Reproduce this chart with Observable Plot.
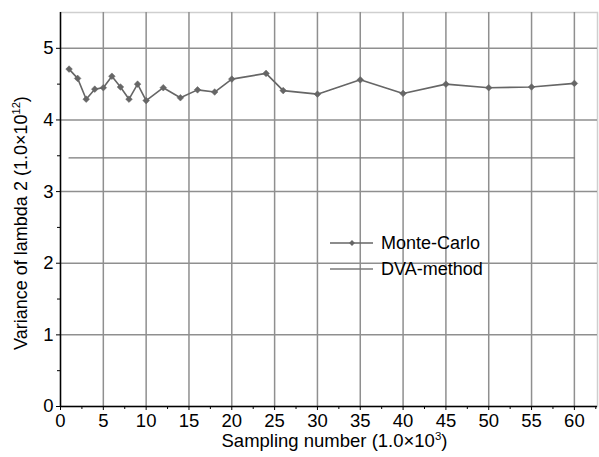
<!DOCTYPE html>
<html>
<head>
<meta charset="utf-8">
<script src="https://cdn.jsdelivr.net/npm/d3@7"></script>
<script src="https://cdn.jsdelivr.net/npm/@observablehq/plot@0.6"></script>
<style>
  html, body { margin: 0; padding: 0; background: #fff; }
  #chart { width: 599px; height: 457px; }
</style>
</head>
<body>
<div id="chart"></div>
<script>
// Sampling number (×10^3)
const samplingX = [1, 2, 3, 4, 5, 6, 7, 8, 9, 10, 12, 14, 16, 18, 20, 24, 26, 30, 35, 40, 45, 50, 55, 60];
// Monte-Carlo variance (×10^12)
const monteCarlo = [4.71, 4.58, 4.29, 4.43, 4.45, 4.61, 4.46, 4.29, 4.50, 4.27, 4.45, 4.31, 4.42, 4.39, 4.57, 4.65, 4.41, 4.36, 4.56, 4.37, 4.50, 4.45, 4.46, 4.51];
// DVA-method variance (×10^12)
const dvaValue = 3.47;
const dvaX = [1, 60];

const xTicks = [0, 5, 10, 15, 20, 25, 30, 35, 40, 45, 50, 55, 60];
const xMinor = [2.5, 7.5, 12.5, 17.5, 22.5, 27.5, 32.5, 37.5, 42.5, 47.5, 52.5, 57.5, 62.5];
const yTicks = [0, 1, 2, 3, 4, 5];
const yMinor = [0.5, 1.5, 2.5, 3.5, 4.5];
const seriesNames = ["Monte-Carlo", "DVA-method"];
const xLabelParts = ["Sampling number (1.0×10", "3", ")"];
const yLabelParts = ["Variance of lambda 2 (1.0×10", "12", ")"];

const mcData = samplingX.map((x, i) => ({x, y: monteCarlo[i]}));
const dvaData = dvaX.map(x => ({x, y: dvaValue}));

const lineColor = "#666666";
const gridColor = "#8f8f8f";
const fontFam = "'Liberation Sans', Arial, sans-serif";

const plot = Plot.plot({
  width: 599,
  height: 457,
  marginLeft: 60,
  marginRight: 2,
  marginTop: 12,
  marginBottom: 51,
  style: {fontFamily: fontFam, fontSize: "16px", color: "#000", background: "#fff"},
  x: {domain: [0, 62.7]},
  y: {domain: [0, 5.5]},
  marks: [
    Plot.frame({stroke: "#cfcfcf", strokeWidth: 1.5}),
    Plot.gridX(xTicks.filter(d => d > 0), {stroke: gridColor, strokeOpacity: 1, strokeWidth: 1.5}),
    Plot.gridY(yTicks.filter(d => d > 0), {stroke: gridColor, strokeOpacity: 1, strokeWidth: 1.5}),
    Plot.axisX(xTicks, {tickSize: 4, tickPadding: 3, fontSize: 18.5, label: null, stroke: "#000", tickFormat: d3.format("d")}),
    Plot.axisX(xMinor, {tickSize: 3, tickFormat: () => "", label: null, stroke: "#000"}),
    Plot.axisY(yTicks, {tickSize: 4, tickPadding: 3, fontSize: 18.5, label: null, stroke: "#000", tickFormat: d3.format("d")}),
    Plot.axisY(yMinor, {tickSize: 3, tickFormat: () => "", label: null, stroke: "#000"}),
    Plot.ruleX([0], {stroke: "#000", strokeWidth: 1.5}),
    Plot.ruleY([0], {stroke: "#000", strokeWidth: 1.5}),
    Plot.line(dvaData, {x: "x", y: "y", stroke: "#7a7a7a", strokeWidth: 1.3}),
    Plot.line(mcData, {x: "x", y: "y", stroke: lineColor, strokeWidth: 1.6}),
    Plot.dot(mcData, {x: "x", y: "y", symbol: "diamond2", r: 3, fill: lineColor, stroke: lineColor, strokeWidth: 0.5})
  ]
});

document.getElementById("chart").appendChild(plot);

const svg = d3.select(plot);
const xs = plot.scale("x"), ys = plot.scale("y");

function labelWithSup(sel, parts, size) {
  sel.append("tspan").text(parts[0]);
  sel.append("tspan").attr("font-size", size * 0.62).attr("dy", -size * 0.38).text(parts[1]);
  sel.append("tspan").attr("dy", size * 0.38).text(parts[2]);
}

// axis titles
const xt = svg.append("text")
  .attr("x", (xs.apply(0) + xs.apply(62.7)) / 2 + 6)
  .attr("y", 447)
  .attr("text-anchor", "middle")
  .attr("font-family", fontFam)
  .attr("font-size", 18.5)
  .attr("fill", "#000");
labelWithSup(xt, xLabelParts, 18.5);

const yt = svg.append("text")
  .attr("transform", `translate(27,${(ys.apply(0) + ys.apply(5.5)) / 2 + 14}) rotate(-90)`)
  .attr("text-anchor", "middle")
  .attr("font-family", fontFam)
  .attr("font-size", 18)
  .attr("fill", "#000");
labelWithSup(yt, yLabelParts, 18);

// legend
const lg = svg.append("g").attr("transform", "translate(330,243)");
seriesNames.forEach((name, i) => {
  const g = lg.append("g").attr("transform", `translate(0,${i * 26})`);
  g.append("line").attr("x1", 0).attr("x2", 43).attr("y1", 0).attr("y2", 0)
    .attr("stroke", i === 0 ? lineColor : "#7a7a7a").attr("stroke-width", i === 0 ? 1.6 : 1.3);
  if (i === 0) {
    g.append("path").attr("d", d3.symbol(d3.symbolDiamond2, 22)()).attr("transform", "translate(22,0)")
      .attr("fill", lineColor);
  }
  g.append("text").attr("x", 51).attr("y", 0).attr("dy", "0.35em")
    .attr("text-anchor", "start")
    .attr("font-family", fontFam).attr("font-size", 18).attr("fill", "#000").text(name);
});
</script>
</body>
</html>
